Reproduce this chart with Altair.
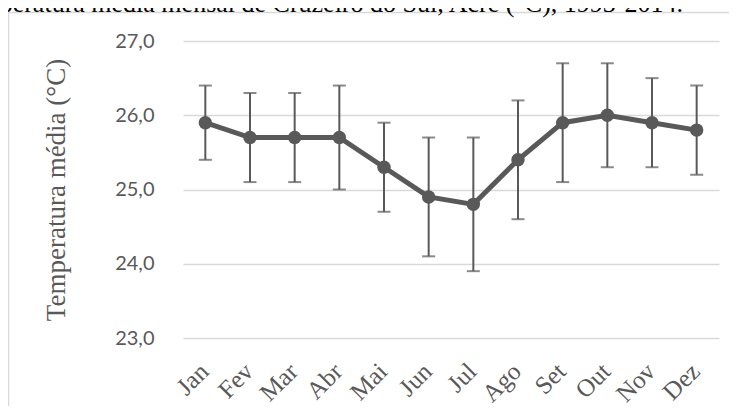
import altair as alt
import pandas as pd

months = ["Jan", "Fev", "Mar", "Abr", "Mai", "Jun", "Jul", "Ago", "Set", "Out", "Nov", "Dez"]
mean_temp = [25.9, 25.7, 25.7, 25.7, 25.3, 24.9, 24.8, 25.4, 25.9, 26.0, 25.9, 25.8]
low_temp = [25.4, 25.1, 25.1, 25.0, 24.7, 24.1, 23.9, 24.6, 25.1, 25.3, 25.3, 25.2]
high_temp = [26.4, 26.3, 26.3, 26.4, 25.9, 25.7, 25.7, 26.2, 26.7, 26.7, 26.5, 26.4]
y_ticks = [23, 24, 25, 26, 27]
title_text = "Temperatura média mensal de Cruzeiro do Sul, Acre (°C), 1993-2014."

df = pd.DataFrame({"mes": months, "media": mean_temp, "min": low_temp, "max": high_temp})

GRAY = "#595959"
SERIF = "Times New Roman, Liberation Serif, serif"
W, H = 536, 297

x_enc = alt.X(
    "mes:N",
    sort=months,
    scale=alt.Scale(type="band", paddingInner=0, paddingOuter=0),
    axis=alt.Axis(
        title=None,
        labelAngle=-45,
        labelAlign="right",
        labelBaseline="middle",
        labelPadding=29,
        labelOffset=-1,
        labelFont=SERIF,
        labelFontSize=25,
        labelColor=GRAY,
        ticks=False,
        domain=False,
        grid=False,
    ),
)

y_scale = alt.Scale(domain=[23, 27], nice=False, zero=False)
y_axis = alt.Axis(
    title="Temperatura média (°C)",
    titleFont=SERIF,
    titleFontSize=27,
    titleFontWeight="normal",
    titleColor=GRAY,
    titleX=-113,
    titleY=H / 2,
    values=y_ticks,
    labelExpr="replace(format(datum.value, '.1f'), '.', ',')",
    labelFont="Lato",
    labelFontSize=20,
    labelColor=GRAY,
    labelPadding=29,
    ticks=False,
    domain=False,
    grid=True,
    gridColor="#d9d9d9",
    gridWidth=1.5,
)

base = alt.Chart(df)

rules = base.mark_rule(color=GRAY, strokeWidth=2).encode(
    x=x_enc,
    y=alt.Y("min:Q", scale=y_scale, axis=y_axis),
    y2="max:Q",
)
caps_lo = base.mark_tick(color=GRAY, thickness=2, size=13, orient="horizontal").encode(
    x=alt.X("mes:N", sort=months), y=alt.Y("min:Q")
)
caps_hi = base.mark_tick(color=GRAY, thickness=2, size=13, orient="horizontal").encode(
    x=alt.X("mes:N", sort=months), y=alt.Y("max:Q")
)
line = base.mark_line(color=GRAY, strokeWidth=5).encode(
    x=alt.X("mes:N", sort=months), y=alt.Y("media:Q")
)
points = base.mark_circle(color=GRAY, size=180, opacity=1).encode(
    x=alt.X("mes:N", sort=months), y=alt.Y("media:Q")
)

border = alt.Chart(alt.Data(values=[{}])).mark_rect(
    fill=None, stroke="#d9d9d9", strokeWidth=1.5
).encode(
    x=alt.value(-174.5), x2=alt.value(W + 40), y=alt.value(-28.5), y2=alt.value(H + 90)
)

title = alt.Chart(alt.Data(values=[{"t": title_text}])).mark_text(
    align="right", baseline="alphabetic", font=SERIF, fontSize=26, color="black"
).encode(
    text="t:N", x=alt.value(500), y=alt.value(-29)
)

chart = alt.layer(border, title, rules, caps_lo, caps_hi, line, points).properties(
    width=W,
    height=H,
    autosize=alt.AutoSizeParams(type="none"),
    padding={"left": 175, "top": 33, "right": 10, "bottom": 68},
).configure_view(stroke=None)

chart.save("out.html", embed_options={"renderer": "svg", "actions": False})
